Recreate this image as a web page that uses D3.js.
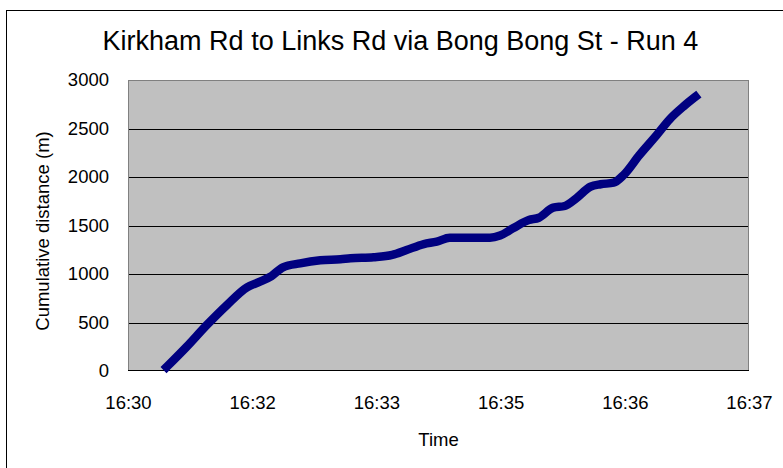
<!DOCTYPE html>
<html>
<head>
<meta charset="utf-8">
<script src="https://cdn.jsdelivr.net/npm/d3@7"></script>
<style>
  html, body { margin: 0; padding: 0; background: #fff; }
  svg { display: block; font-family: "Liberation Sans", Arial, sans-serif; }
</style>
</head>
<body>
<svg id="chart" width="783" height="468"></svg>
<script>
// Run 4: clock time of each reading and cumulative distance travelled (m)
const times = [
  "16:31:10", "16:31:24", "16:31:38", "16:31:52", "16:32:06", "16:32:15",
  "16:32:23", "16:32:31", "16:32:43", "16:32:57", "16:33:11", "16:33:18",
  "16:33:34", "16:33:47", "16:33:57", "16:34:09", "16:34:18", "16:34:27",
  "16:34:39", "16:34:55", "16:35:02", "16:35:11", "16:35:22", "16:35:29",
  "16:35:39", "16:35:47", "16:35:55", "16:36:05", "16:36:12", "16:36:21",
  "16:36:28", "16:36:39", "16:36:51", "16:37:00", "16:37:10", "16:37:18"
];
const distances = [
  40, 250, 474, 680, 863, 921,
  979, 1069, 1110, 1141, 1152, 1162,
  1172, 1196, 1247, 1309, 1333, 1374,
  1374, 1374, 1397, 1471, 1557, 1580,
  1684, 1701, 1780, 1900, 1925, 1941,
  2021, 2227, 2433, 2595, 2732, 2828
];

// Time axis ticks, as fractions of a day, with their minute labels
const xTickDays = [0.688, 0.689, 0.690, 0.691, 0.692, 0.693];
const xTickLabels = ["16:30", "16:32", "16:33", "16:35", "16:36", "16:37"];
const yTicks = [0, 500, 1000, 1500, 2000, 2500, 3000];

const titleText = "Kirkham Rd to Links Rd via Bong Bong St - Run 4";
const xTitle = "Time";
const yTitle = "Cumulative distance (m)";

const DAY = 86400;
const toSeconds = s => {
  const [h, m, sec] = s.split(":").map(Number);
  return h * 3600 + m * 60 + sec;
};
const data = times.map((t, i) => ({ t: toSeconds(t), d: distances[i] }));

const svg = d3.select("#chart");
const plot = { left: 128, right: 749, top: 80, bottom: 371 };

const x = d3.scaleLinear()
  .domain([xTickDays[0] * DAY, xTickDays[xTickDays.length - 1] * DAY])
  .range([plot.left, plot.right]);
const y = d3.scaleLinear()
  .domain([0, 3000])
  .range([plot.bottom, plot.top]);

// Outer chart frame (runs off the right and bottom edges)
svg.append("rect")
  .attr("x", 6.5).attr("y", 10.5)
  .attr("width", 820).attr("height", 500)
  .attr("fill", "#fff").attr("stroke", "#000").attr("stroke-width", 1);

// Plot area background
svg.append("rect")
  .attr("x", plot.left).attr("y", plot.top)
  .attr("width", plot.right - plot.left).attr("height", plot.bottom - plot.top)
  .attr("fill", "#c0c0c0");

// Horizontal gridlines
svg.append("g")
  .selectAll("line")
  .data(yTicks.slice(1, -1))
  .join("line")
  .attr("x1", plot.left).attr("x2", plot.right)
  .attr("y1", d => Math.round(y(d)) + 0.5).attr("y2", d => Math.round(y(d)) + 0.5)
  .attr("stroke", "#000").attr("stroke-width", 1);

// Plot border
svg.append("rect")
  .attr("x", plot.left + 0.5).attr("y", plot.top + 0.5)
  .attr("width", plot.right - plot.left - 1).attr("height", plot.bottom - plot.top - 1)
  .attr("fill", "none").attr("stroke", "#808080").attr("stroke-width", 1);
svg.append("line")
  .attr("x1", plot.left).attr("x2", plot.right)
  .attr("y1", plot.bottom - 0.5).attr("y2", plot.bottom - 0.5)
  .attr("stroke", "#000").attr("stroke-width", 1);

// Y axis labels
const yAxis = d3.axisLeft(y).tickValues(yTicks).tickFormat(d3.format("d"))
  .tickSize(0).tickPadding(19);
svg.append("g")
  .attr("transform", `translate(${plot.left},0)`)
  .call(yAxis)
  .call(g => g.select(".domain").remove())
  .call(g => g.selectAll("text")
    .attr("font-size", "18.5px").attr("fill", "#000")
    .attr("font-family", "Liberation Sans, Arial, sans-serif"));

// X axis labels
const xAxis = d3.axisBottom(x)
  .tickValues(xTickDays.map(d => d * DAY))
  .tickFormat((d, i) => xTickLabels[i])
  .tickSize(0).tickPadding(25);
svg.append("g")
  .attr("transform", `translate(0,${plot.bottom})`)
  .call(xAxis)
  .call(g => g.select(".domain").remove())
  .call(g => g.selectAll("text")
    .attr("font-size", "18.5px").attr("fill", "#000")
    .attr("font-family", "Liberation Sans, Arial, sans-serif"));

// Distance line
const line = d3.line().x(d => x(d.t)).y(d => y(d.d)).curve(d3.curveMonotoneX);
svg.append("path")
  .datum(data)
  .attr("d", line)
  .attr("fill", "none")
  .attr("stroke", "#000080")
  .attr("stroke-width", 8.5)
  .attr("stroke-linejoin", "round")
  .attr("stroke-linecap", "square");

// Titles
svg.append("text")
  .attr("x", 400.5).attr("y", 50)
  .attr("text-anchor", "middle")
  .attr("font-size", "27px")
  .attr("fill", "#000")
  .text(titleText);

svg.append("text")
  .attr("x", (plot.left + plot.right) / 2).attr("y", 446)
  .attr("text-anchor", "middle")
  .attr("font-size", "18.5px")
  .attr("fill", "#000")
  .text(xTitle);

svg.append("text")
  .attr("transform", "translate(48.5,231) rotate(-90)")
  .attr("text-anchor", "middle")
  .attr("font-size", "18.5px")
  .attr("fill", "#000")
  .text(yTitle);
</script>
</body>
</html>
